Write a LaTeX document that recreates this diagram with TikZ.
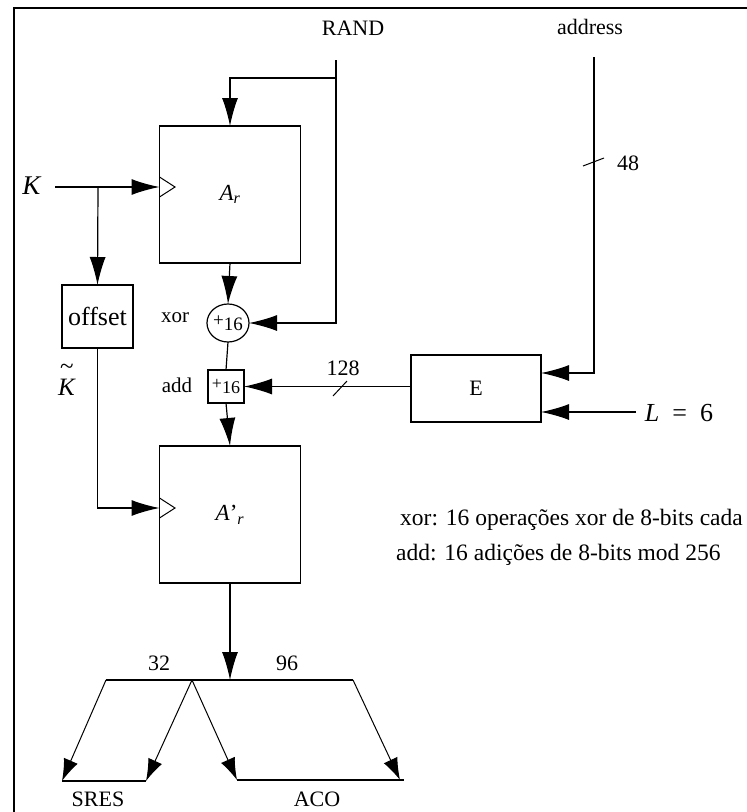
\documentclass[tikz,border=0pt]{standalone}
\usepackage{fontspec}
\setmainfont{Liberation Serif}
\usetikzlibrary{arrows.meta,shapes.geometric}
\begin{document}
\begin{tikzpicture}[x=1pt,y=-1pt,
  every node/.style={font=\fontsize{22}{26}\selectfont},
  blk/.style={draw, line width=1.2pt, inner sep=0pt, outer sep=0pt},
  wire/.style={line width=1.2pt},
  arr/.style={wire, -{Latex[length=28pt,width=16pt]}},
  sarr/.style={line width=1pt, -{Latex[length=22pt,width=15pt]}},
  lbl/.style={inner sep=0pt}]
\useasboundingbox (0,0) rectangle (747,812);
\fill[white] (0,0) rectangle (747,812);
\draw[line width=2.5pt] (14,812) -- (14,8) -- (747,8);

% blocks
\node[blk, minimum width=141pt, minimum height=137pt, font=\fontsize{23}{27}\selectfont] (Ar) at (230,194.5) {\textit{A}\textsubscript{\textit{r}}};
\node[blk, minimum width=141pt, minimum height=137pt, font=\fontsize{23}{27}\selectfont] (Apr) at (230,514.5) {\textit{A}'\textsubscript{\textit{r}}};
\node[blk, minimum width=71pt, minimum height=63pt, font=\fontsize{26}{30}\selectfont] (off) at (97.5,316.5) {offset};
\node[blk, ellipse, minimum width=42pt, minimum height=38pt, font=\fontsize{19}{22}\selectfont] (xor) at (228,323) {+\raisebox{-4pt}{16}};
\node[blk, minimum width=36pt, minimum height=33pt, font=\fontsize{18}{22}\selectfont] (add) at (226,386.5) {+\raisebox{-4pt}{16}};
\node[blk, minimum width=130pt, minimum height=67pt] (E) at (476,388.5) {E};

% labels
\node[lbl] (rand) at (353,28) {RAND};
\node[lbl] (addr) at (590,27) {address};
\node[lbl, font=\fontsize{27}{30}\selectfont] (K) at (32,186) {\textit{K}};
\node[lbl, font=\fontsize{25}{28}\selectfont] (Kt) at (67,380) {\shortstack{\textasciitilde\\[1pt]\textit{K}}};
\node[lbl, font=\fontsize{21}{24}\selectfont] (xorl) at (175,318) {xor};
\node[lbl, font=\fontsize{21}{24}\selectfont] (addl) at (177,385) {add};
\node[lbl] (n128) at (343,368) {128};
\node[lbl] (n48) at (628,163) {48};
\node[lbl, font=\fontsize{26}{30}\selectfont] (L) at (679,413) {\textit{L}\ \ =\ \ 6};
\node[lbl, anchor=west, font=\fontsize{23.5}{27}\selectfont] (note1) at (400,520) {xor: 16 operações xor de 8-bits cada};
\node[lbl, anchor=west, font=\fontsize{23.5}{27}\selectfont] (note2) at (396,555) {add: 16 adições de 8-bits mod 256};
\node[lbl] (n32) at (159,663) {32};
\node[lbl] (n96) at (287,663) {96};
\node[lbl] (sres) at (98,799) {SRES};
\node[lbl] (aco) at (317,799) {ACO};

% RAND
\coordinate (randtop) at (336,60);
\coordinate (randbr) at (336,78);
\coordinate (randbot) at (336,323);
\draw[wire] (randtop) -- (randbr);
\draw[arr] (randbr) -| (Ar.north);
\draw[arr] (randbr) -- (randbot) -- (xor.east);

% K
\coordinate (kstart) at (55,187);
\coordinate (kj) at (98,187);
\draw[arr] (kstart) -- (Ar.west |- kstart);
\draw[arr] (kj) -- (off.north);
\draw[line width=1pt] (159.5,177) -- (175,187) -- (159.5,197);
\coordinate (kt) at (97.5,508);
\draw[arr] (off.south) |- (Apr.west |- kt);
\draw[line width=1pt] (159.5,498) -- (175,508) -- (159.5,518);

% core chain
\draw[arr] (Ar.south) -- (xor.north);
\draw[wire] (xor.south) -- (add.north);
\draw[arr] (add.south) -- (Apr.north);

% E
\draw[arr] (E.west |- add.east) -- (add.east);
\draw[line width=1pt] (333,396) -- (347,381);
\coordinate (at) at (594,57);
\coordinate (ab) at (594,373);
\draw[arr] (at) -- (ab) -- (E.east |- ab);
\draw[line width=1pt] (583,166) -- (604,158);
\coordinate (Ls) at (636,412);
\draw[arr] (Ls) -- (E.east |- Ls);

% output split
\coordinate (sp) at (230,680);
\draw[arr] (Apr.south) -- (sp);
\coordinate (s1) at (106,680);
\coordinate (s2) at (192,680);
\coordinate (s4) at (353,680);
\draw[wire] (s1) -- (s4);
\coordinate (t1) at (62,781);
\coordinate (t2) at (146,781);
\coordinate (t3) at (237,780);
\coordinate (t4) at (400,780);
\coordinate (t5) at (404,780);
\draw[sarr] (s1) -- (t1);
\draw[sarr] (s2) -- (t2);
\draw[sarr] (s2) -- (t3);
\draw[sarr] (s4) -- (t4);
\draw[wire] (t1) -- (t2);
\draw[wire] (t3) -- (t5);
\end{tikzpicture}
\end{document}
